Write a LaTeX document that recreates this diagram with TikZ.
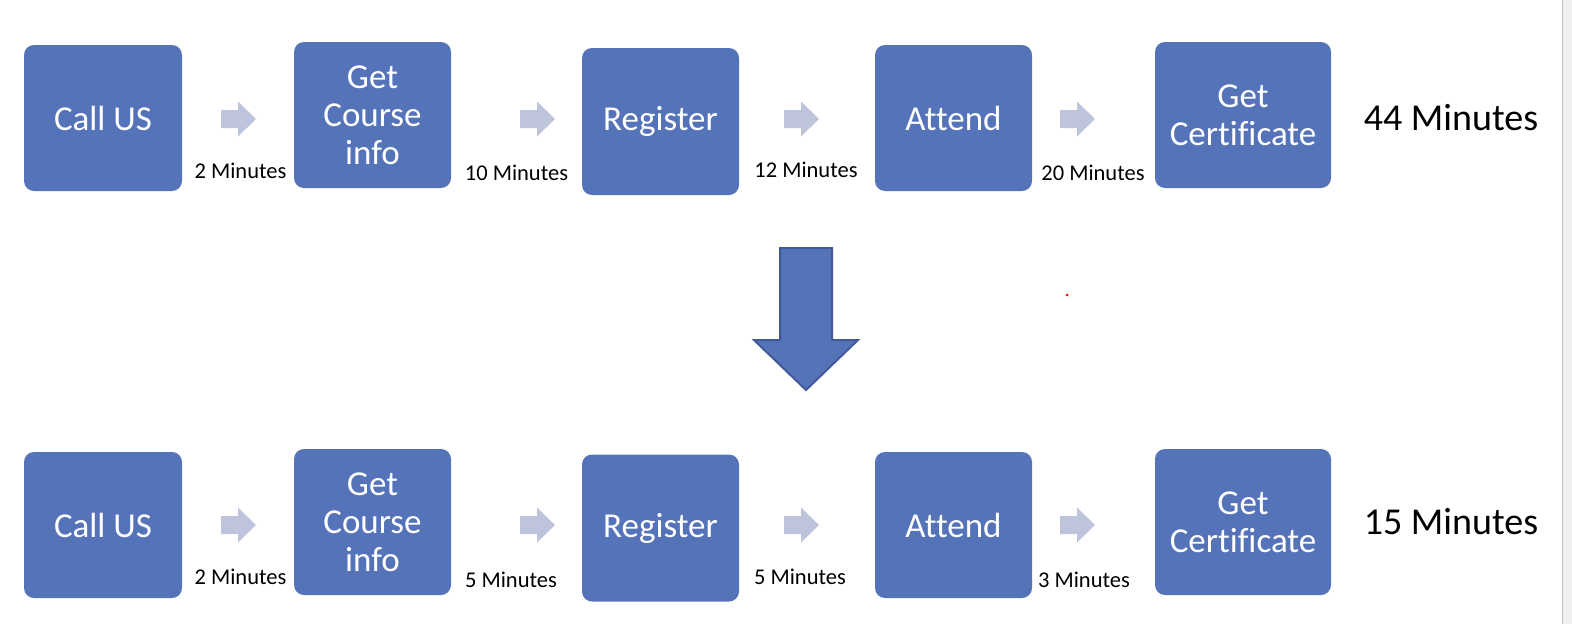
\documentclass[tikz,border=0pt]{standalone}
\usepackage{fontspec}
\setmainfont{Carlito}[Ligatures=NoCommon]
\definecolor{boxblue}{HTML}{5573B8}
\definecolor{arrowgray}{HTML}{BEC4DC}
\definecolor{bigedge}{HTML}{41599A}
\tikzset{
  stepbox/.style={rectangle, rounded corners=10pt, fill=boxblue, text=white,
    minimum height=146pt, inner sep=0pt, align=center,
    font=\fontsize{35}{38}\selectfont},
  minlabel/.style={inner sep=0pt, font=\fontsize{22.5}{25}\selectfont},
  total/.style={inner sep=0pt, font=\fontsize{38}{41}\selectfont},
}
\newcommand{\smallarrow}[1]{\fill[arrowgray] (#1) ++(0,-9) -- ++(17,0) -- ++(0,-8.5) -- ++(18,17.5) -- ++(-18,17.5) -- ++(0,-8.5) -- ++(-17,0) -- cycle;}
\begin{document}
\begin{tikzpicture}[x=1pt,y=-1pt]
\useasboundingbox (0,0) rectangle (1572,624);
\fill[white] (0,0) rectangle (1572,624);
\fill[black!6] (1562,0) rectangle (1572,624);
\draw[black!25, line width=1pt] (1562,0) -- (1562,624);
% top row
\node[stepbox, minimum width=158pt] (t1) at (103,118) {Call US};
\node[stepbox, minimum width=157pt] (t2) at (372.5,115) {Get\\Course\\info};
\node[stepbox, minimum width=157pt, minimum height=147pt] (t3) at (660.5,121.5) {Register};
\node[stepbox, minimum width=157pt] (t4) at (953.5,118) {Attend};
\node[stepbox, minimum width=176pt] (t5) at (1243,115) {Get\\Certificate};
\coordinate (ta1) at (221,119);
\coordinate (ta2) at (520,119);
\coordinate (ta3) at (784,119);
\coordinate (ta4) at (1060,119);
\smallarrow{ta1}\smallarrow{ta2}\smallarrow{ta3}\smallarrow{ta4}
\node[minlabel] (tl1) at (240.5,171) {2 Minutes};
\node[minlabel] (tl2) at (516.5,173) {10 Minutes};
\node[minlabel] (tl3) at (806,170) {12 Minutes};
\node[minlabel] (tl4) at (1093,173) {20 Minutes};
\node[total] (tt) at (1451,118) {44 Minutes};
% big arrow
\node (big) at (806,319) {};
\filldraw[fill=boxblue, draw=bigedge, line width=2pt, line join=miter]
  (780,248) -- (832,248) -- (832,340) -- (858,340) -- (806,390) -- (754,340) -- (780,340) -- cycle;
% red dot
\fill[red] (1067,295) circle (1.5pt);
% bottom row
\node[stepbox, minimum width=158pt] (b1) at (103,525) {Call US};
\node[stepbox, minimum width=157pt] (b2) at (372.5,522) {Get\\Course\\info};
\node[stepbox, minimum width=157pt, minimum height=147pt] (b3) at (660.5,528) {Register};
\node[stepbox, minimum width=157pt] (b4) at (953.5,525) {Attend};
\node[stepbox, minimum width=176pt] (b5) at (1243,522) {Get\\Certificate};
\coordinate (ba1) at (221,525);
\coordinate (ba2) at (520,525);
\coordinate (ba3) at (784,525);
\coordinate (ba4) at (1060,525);
\smallarrow{ba1}\smallarrow{ba2}\smallarrow{ba3}\smallarrow{ba4}
\node[minlabel] (bl1) at (240.5,577) {2 Minutes};
\node[minlabel] (bl2) at (511,580) {5 Minutes};
\node[minlabel] (bl3) at (800,577) {5 Minutes};
\node[minlabel] (bl4) at (1084,580) {3 Minutes};
\node[total] (bt) at (1451,522) {15 Minutes};
\end{tikzpicture}
\end{document}
